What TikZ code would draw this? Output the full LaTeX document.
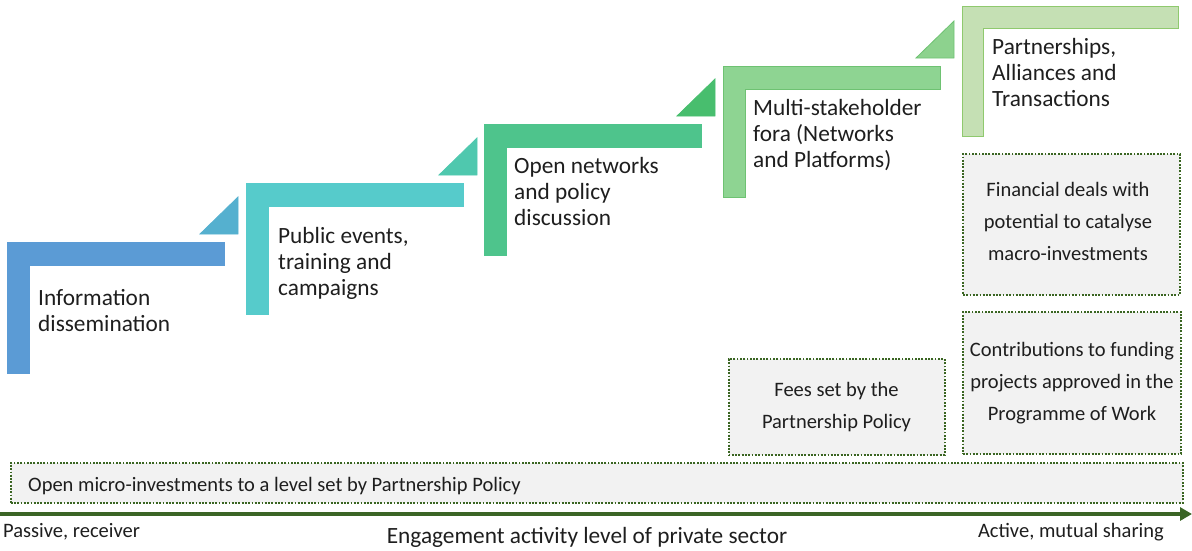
\documentclass[tikz,border=0pt]{standalone}
\usepackage{fontspec}
\setmainfont{Carlito}
\usetikzlibrary{arrows.meta}
\definecolor{cA}{HTML}{5B9BD5}
\definecolor{tA}{HTML}{55B0CF}
\definecolor{cB}{HTML}{56CBCB}
\definecolor{tB}{HTML}{4FC8AE}
\definecolor{cC}{HTML}{4EC48C}
\definecolor{tC}{HTML}{48BE6E}
\definecolor{cD}{HTML}{8ED492}
\definecolor{tD}{HTML}{8DD28E}
\definecolor{bD}{HTML}{6EC272}
\definecolor{cE}{HTML}{C5E0B4}
\definecolor{bE}{HTML}{8FC96E}
\definecolor{boxfill}{HTML}{F2F2F2}
\definecolor{boxline}{HTML}{3A6522}
\definecolor{axisgreen}{HTML}{3B6526}
\definecolor{txt}{HTML}{1E1E1E}
\tikzset{
  stairtext/.style={anchor=north west, inner sep=0pt, align=left, text=txt,
    font=\fontsize{23.3}{26}\selectfont},
  gbox/.style={draw=boxline, fill=boxfill, line width=2pt,
    dash pattern=on 1.8pt off 1.5pt, rectangle, inner sep=0pt,
    align=center, text=txt, font=\fontsize{20.5}{32}\selectfont},
  boxtext/.style={inner sep=0pt, align=center, text=txt, font=\fontsize{20.5}{32}\selectfont},
  smalllabel/.style={inner sep=0pt, text=txt, font=\fontsize{20.5}{24}\selectfont},
}
\begin{document}
\begin{tikzpicture}[x=1pt,y=-1pt]
\useasboundingbox (0,0) rectangle (1192,550);
% stairs: L-shapes and triangles
\foreach \L/\T/\fc/\dc/\tc/\tdc in {7/242/cA/cA/tA/tA, 246/183/cB/cB/tB/tB, 484/124/cC/cC/tC/tC, 723/66/cD/bD/tD/bD}{
  \fill[draw=\dc, fill=\fc, line width=0.8pt]
    (\L,\T) -- ++(217,0) -- ++(0,23) -- ++(-195,0) -- ++(0,108) -- ++(-22,0) -- cycle;
  \fill[draw=\tdc, fill=\tc, line width=0.8pt]
    (\L+193,\T-8) -- (\L+231,\T-8) -- (\L+231,\T-45) -- cycle;
}
\fill[draw=bE, fill=cE, line width=1pt]
  (962,6) -- ++(216,0) -- ++(0,22) -- ++(-195,0) -- ++(0,108) -- ++(-21,0) -- cycle;
% stair texts
\node[stairtext] (s1) at (38,289) {Information\\dissemination};
\node[stairtext] (s2) at (278,227) {Public events,\\training and\\campaigns};
\node[stairtext] (s3) at (514,157) {Open networks\\and policy\\discussion};
\node[stairtext] (s4) at (753,99) {Multi-stakeholder\\fora (Networks\\and Platforms)};
\node[stairtext] (s5) at (992,38) {Partnerships,\\Alliances and\\Transactions};
% grey boxes
\node[gbox, minimum width=217pt, minimum height=141pt] (finbox) at (1071.5,224.5) {};
\node[boxtext] (fin) at (1068,221.5)
  {Financial deals with\\potential to catalyse\\macro-investments};
\node[gbox, minimum width=218pt, minimum height=142pt] (contrib) at (1072,383)
  {Contributions to funding\\projects approved in the\\Programme of Work};
\node[gbox, minimum width=216pt, minimum height=96pt] (fees) at (836.5,407)
  {Fees set by the\\Partnership Policy};
\node[gbox, minimum width=1172pt, minimum height=40pt] (micro) at (596.75,483) {};
\node[smalllabel, anchor=west] (microtext) at (28,486)
  {Open micro-investments to a level set by Partnership Policy};
% axis
\coordinate (axL) at (0,514);
\coordinate (axR) at (1192,514);
\draw[line width=4pt, axisgreen, -{Triangle[length=12pt,width=13pt]}] (axL) -- (axR);
\node[smalllabel, anchor=base west] (passive) at (3,537) {Passive, receiver};
\node[smalllabel, anchor=base east] (active) at (1164,537) {Active, mutual sharing};
\node[inner sep=0pt, anchor=base, text=txt, font=\fontsize{23.3}{26}\selectfont] (axtitle) at (587,543)
  {Engagement activity level of private sector};
\end{tikzpicture}
\end{document}
